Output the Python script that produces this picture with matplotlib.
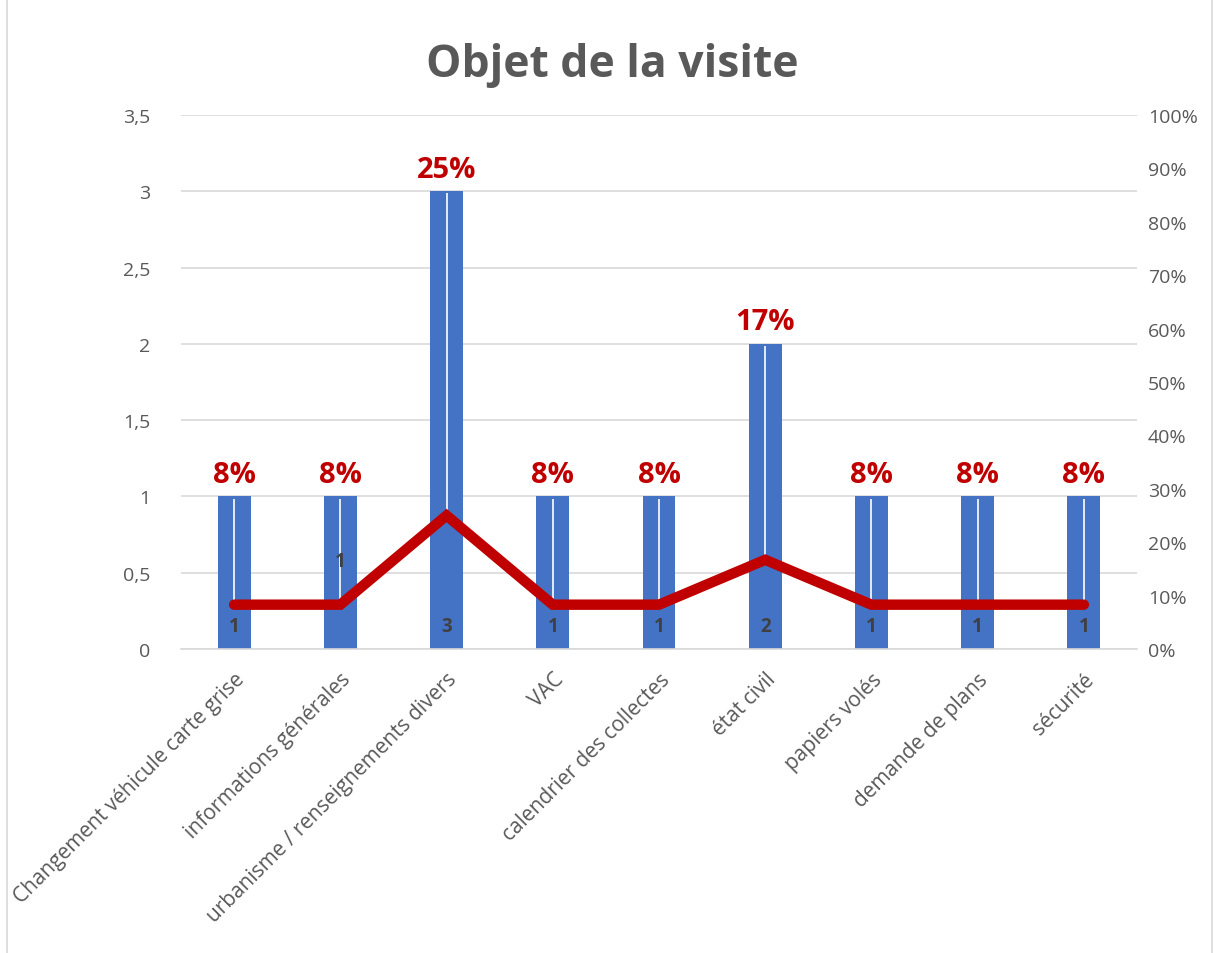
import numpy as np
import matplotlib
matplotlib.use('Agg')
import matplotlib.pyplot as plt
from matplotlib.ticker import FuncFormatter
from matplotlib.patches import Rectangle

plt.rcParams['font.family'] = ['Open Sans', 'DejaVu Sans']

# data
categories = ['Changement véhicule carte grise', 'informations générales',
              'urbanisme / renseignements divers', 'VAC', 'calendrier des collectes',
              'état civil', 'papiers volés', 'demande de plans', 'sécurité']
counts = [1, 1, 3, 1, 1, 2, 1, 1, 1]
pct = [0.083, 0.083, 0.25, 0.083, 0.083, 0.167, 0.083, 0.083, 0.083]
pct_labels = ['8%', '8%', '25%', '8%', '8%', '17%', '8%', '8%', '8%']

blue = '#4472C4'
red = '#C00000'
grey = '#595959'

fig = plt.figure(figsize=(12.2, 9.54), dpi=100)
ax = fig.add_axes([181/1220, 1 - 650/954, (1137-181)/1220, (650-116)/954])
ax2 = ax.twinx()

x = np.arange(len(categories))
ax.bar(x, counts, width=0.31, color=blue, linewidth=0, zorder=2)

# gridlines
ax.set_ylim(0, 3.5)
ax.set_yticks(np.arange(0, 3.51, 0.5))
ax.yaxis.set_major_formatter(FuncFormatter(lambda v, p: f'{v:g}'.replace('.', ',')))
ax.grid(axis='y', color='#D9D9D9', linewidth=1.2, zorder=0)
ax.set_axisbelow(True)
ax.set_xlim(-0.5, len(categories) - 0.5)
ax.set_xticks(x)
ax.set_xticklabels(categories, rotation=45, ha='right', rotation_mode='anchor')
ax.tick_params(axis='x', length=0, pad=14, labelsize=15, labelcolor=grey)
ax.tick_params(axis='y', length=0, pad=22, labelsize=14, labelcolor=grey)
for s in ['top', 'left', 'right']:
    ax.spines[s].set_visible(False)
    ax2.spines[s].set_visible(False)
ax2.spines['bottom'].set_visible(False)
ax.spines['bottom'].set_color('#D9D9D9')
ax.spines['bottom'].set_linewidth(1.2)

# secondary axis
ax2.set_ylim(0, 1)
ax2.set_yticks(np.arange(0, 1.01, 0.1))
ax2.yaxis.set_major_formatter(FuncFormatter(lambda v, p: f'{v*100:.0f}%'))
ax2.tick_params(axis='y', length=0, pad=8, labelsize=14, labelcolor=grey)

# leader lines from bar top down to the line point
for xi, c, p in zip(x, counts, pct):
    ax2.plot([xi, xi], [p, c / 3.5 - 0.004], color='white', linewidth=1.2,
             solid_capstyle='butt', zorder=3)

ax2.plot(x, pct, color=red, linewidth=7.5, solid_capstyle='round',
         solid_joinstyle='miter', zorder=4)

# labels
for xi, c, lab in zip(x, counts, pct_labels):
    ax.text(xi, c + 0.05, lab, ha='center', va='bottom', color=red,
            fontsize=21, fontweight='bold')
for i, (xi, c) in enumerate(zip(x, counts)):
    yl = 0.58 if i == 1 else 0.15
    ax2.text(xi, yl / 3.5, str(c), ha='center', va='center', color='#404040',
             fontsize=13.5, fontweight='bold', zorder=5)

fig.text(0.502, 1 - 66/954, 'Objet de la visite', ha='center', va='center',
         fontsize=32, fontweight='bold', color=grey)

fig.patches.append(Rectangle((7/1220, -0.01), (1212-7)/1220, 1.02,
                             transform=fig.transFigure, fill=False,
                             edgecolor='#D9D9D9', linewidth=1.2))

fig.savefig('out.png', dpi=100)
